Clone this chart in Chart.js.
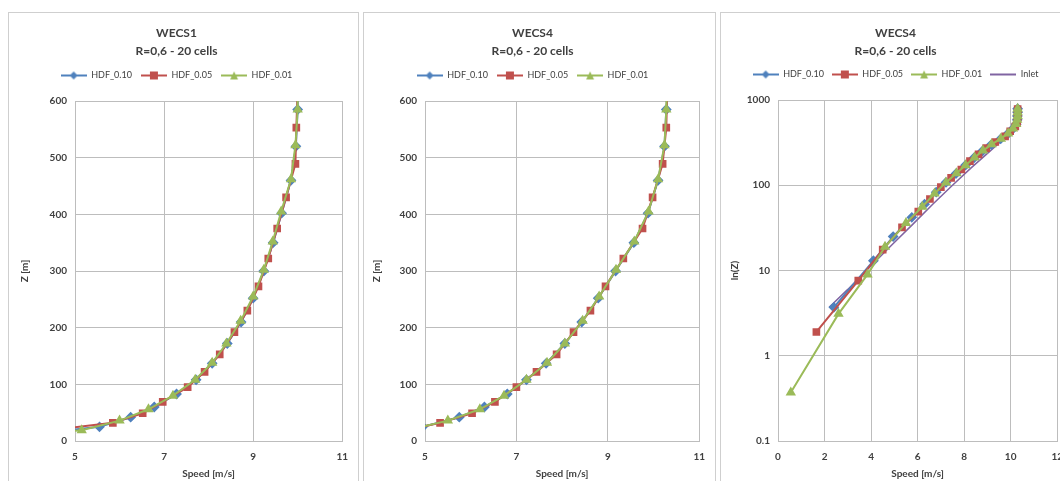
<!DOCTYPE html>
<html>
<head>
<meta charset="utf-8">
<script src="https://cdn.jsdelivr.net/npm/chart.js@4"></script>
<style>
body{margin:0;background:#fff;width:1060px;height:481px;overflow:hidden;position:relative}
.panel{position:absolute;top:12px;height:480px;border:1px solid #cfcfcf;background:#fff}
.panel canvas{position:absolute;left:0;top:0}
</style>
</head>
<body>
<div class="panel" style="left:8px;width:349px"><canvas id="c1" width="349" height="468"></canvas></div>
<div class="panel" style="left:363px;width:351px"><canvas id="c2" width="351" height="468"></canvas></div>
<div class="panel" style="left:720px;width:352px"><canvas id="c3" width="352" height="468"></canvas></div>
<script>
// heights of the cell centres for each grid [m]
const zB = [3.7, 13, 25, 42, 60, 83, 108, 137, 172, 210, 252, 300, 350, 402, 460, 520, 585, 650, 720, 790];
const zR = [1.9, 7.6, 17.6, 32, 49, 69, 95, 122, 153, 192, 230, 273, 322, 375, 430, 489, 553, 620, 700, 780];
const zG = [0.37, 3.1, 9, 19, 36, 56, 80, 108, 138, 172, 212, 255, 302, 352, 405, 462, 522, 585, 650, 720, 790];
const zInlet = [3.7, 6, 10, 20, 35, 60, 100, 160, 250, 350, 420, 500, 600, 700, 800];

// speeds [m/s]
const wecs1B = [2.3, 4.2, 5.55, 6.25, 6.78, 7.28, 7.72, 8.08, 8.42, 8.73, 9.0, 9.24, 9.45, 9.64, 9.85, 9.96, 10.0, 10.0, 10.0, 10.0];
const wecs1R = [1.5, 3.0, 4.3, 5.85, 6.52, 6.97, 7.53, 7.91, 8.25, 8.58, 8.87, 9.12, 9.34, 9.54, 9.74, 9.95, 9.97, 10.0, 10.0, 10.0];
const wecs1G = [0.5, 2.5, 3.8, 5.15, 6.0, 6.65, 7.2, 7.7, 8.08, 8.4, 8.72, 9.0, 9.24, 9.44, 9.63, 9.85, 9.95, 10.0, 10.0, 10.0, 10.0];
const wecs4B = [2.4, 4.1, 4.95, 5.75, 6.3, 6.8, 7.22, 7.65, 8.06, 8.43, 8.79, 9.17, 9.57, 9.88, 10.1, 10.24, 10.28, 10.29, 10.3, 10.3];
const wecs4R = [1.65, 3.45, 4.5, 5.33, 6.03, 6.53, 7.0, 7.44, 7.88, 8.25, 8.62, 8.95, 9.34, 9.76, 9.98, 10.2, 10.28, 10.3, 10.3, 10.3];
const wecs4G = [0.55, 2.6, 3.85, 4.6, 5.5, 6.2, 6.73, 7.22, 7.67, 8.06, 8.45, 8.81, 9.18, 9.58, 9.89, 10.1, 10.24, 10.28, 10.3, 10.3, 10.3];
const inlet = [2.2, 3.0, 3.8, 4.9, 5.8, 6.65, 7.5, 8.3, 9.1, 9.7, 10.05, 10.2, 10.28, 10.3, 10.3];

const names = ['HDF_0.10', 'HDF_0.05', 'HDF_0.01', 'Inlet'];
const logTicks = [0.1, 1, 10, 100, 1000];

const BLUE = '#4F81BD', RED = '#C0504D', GREEN = '#9BBB59', PURPLE = '#8064A2';
const GRID = '#bdbdbd', TXT = '#404040';
Chart.defaults.font.family = 'Lato';

function pts(xs, zs) { return xs.map((v, i) => ({x: v, y: zs[i]})); }

// little line+marker picture for the legend, like Excel draws it
function icon(color, style) {
  const c = document.createElement('canvas');
  c.width = 26; c.height = 10;
  const g = c.getContext('2d');
  g.strokeStyle = color; g.fillStyle = color; g.lineWidth = 2;
  g.beginPath(); g.moveTo(0, 5); g.lineTo(26, 5); g.stroke();
  g.beginPath();
  if (style == 'rect') g.rect(9, 1, 8, 8);
  if (style == 'rectRot') { g.moveTo(13, 1); g.lineTo(17, 5); g.lineTo(13, 9); g.lineTo(9, 5); }
  if (style == 'triangle') { g.moveTo(13, 1); g.lineTo(17, 9); g.lineTo(9, 9); }
  g.closePath(); g.fill();
  return c;
}

function series(label, xs, zs, color, style, order) {
  return {
    label: label, data: pts(xs, zs), showLine: true,
    borderColor: color, backgroundColor: color, borderWidth: 2,
    pointStyle: style || 'circle', pointRadius: style ? 4 : 0,
    pointBackgroundColor: color, pointBorderColor: color,
    order: order, legendIcon: icon(color, style)
  };
}

function makeChart(id, title, datasets, xOpt, yOpt, yWidth, yTitle, yTitlePad, padR, legPad) {
  return new Chart(document.getElementById(id), {
    type: 'scatter',
    data: {datasets: datasets},
    options: {
      responsive: false, animation: false,
      layout: {padding: {left: 0, right: padR, top: 0, bottom: 0}},
      plugins: {
        tooltip: {enabled: false},
        title: {display: true, text: [title, 'R=0,6 - 20 cells'], color: TXT,
          font: {size: 12, weight: 'bold', lineHeight: 1.5}, padding: {top: 11, bottom: 2}},
        legend: {
          labels: {
            color: TXT, font: {size: 9}, usePointStyle: true, pointStyleWidth: 26, padding: legPad,
            generateLabels: ch => ch.data.datasets.map((d, i) => ({
              text: d.label, pointStyle: d.legendIcon, fillStyle: d.borderColor,
              strokeStyle: d.borderColor, lineWidth: 0, datasetIndex: i, fontColor: TXT
            }))
          }
        }
      },
      scales: {
        x: Object.assign({
          type: 'linear', position: 'bottom',
          grid: {color: GRID, drawTicks: false},
          border: {color: GRID},
          title: {display: true, text: 'Speed [m/s]', color: TXT, font: {size: 10, weight: 'bold'}, padding: {top: 0, bottom: 1}},
          afterFit: s => { s.height = 40; }
        }, xOpt),
        // empty axis on top, only keeps a gap under the legend
        gap: {
          type: 'linear', position: 'top', axis: 'x', min: 0, max: 1,
          grid: {display: false}, border: {display: false}, ticks: {display: false},
          afterFit: s => { s.height = 11; }
        },
        y: Object.assign({
          grid: {color: GRID, drawTicks: false},
          border: {color: GRID},
          title: {display: true, text: yTitle, color: TXT, font: {size: 10, weight: 'bold'}, padding: {top: yTitlePad, bottom: 0}},
          afterFit: s => { s.width = yWidth; }
        }, yOpt)
      }
    }
  });
}

const linX = {min: 5, max: 11, ticks: {color: TXT, padding: 10, stepSize: 2, font: {size: 10, weight: 'bold'}}};
const linY = {type: 'linear', min: 0, max: 600, ticks: {color: TXT, padding: 8, stepSize: 100, font: {size: 10, weight: 'bold'}}};

makeChart('c1', 'WECS1', [
  series(names[0], wecs1B, zB, BLUE, 'rectRot', 3),
  series(names[1], wecs1R, zR, RED, 'rect', 2),
  series(names[2], wecs1G, zG, GREEN, 'triangle', 1)
], linX, linY, 66, 'Z [m]', 10, 14, 9);

makeChart('c2', 'WECS4', [
  series(names[0], wecs4B, zB, BLUE, 'rectRot', 3),
  series(names[1], wecs4R, zR, RED, 'rect', 2),
  series(names[2], wecs4G, zG, GREEN, 'triangle', 1)
], linX, linY, 61, 'Z [m]', 7, 14, 9);

makeChart('c3', 'WECS4', [
  series(names[0], wecs4B, zB, BLUE, 'rectRot', 3),
  series(names[1], wecs4R, zR, RED, 'rect', 2),
  series(names[2], wecs4G, zG, GREEN, 'triangle', 1),
  Object.assign(series(names[3], inlet, zInlet, PURPLE, null, 4), {borderWidth: 1.5})
], {min: 0, max: 12, ticks: {color: TXT, padding: 10, stepSize: 2, font: {size: 10, weight: 'bold'}}},
{type: 'logarithmic', min: 0.1, max: 1000,
  afterBuildTicks: s => { s.ticks = logTicks.map(v => ({value: v})); },
  ticks: {color: TXT, padding: 8, font: {size: 10, weight: 'bold'}, callback: v => String(v)}},
57, 'ln(Z)', 8, 3, 8);
</script>
</body>
</html>
